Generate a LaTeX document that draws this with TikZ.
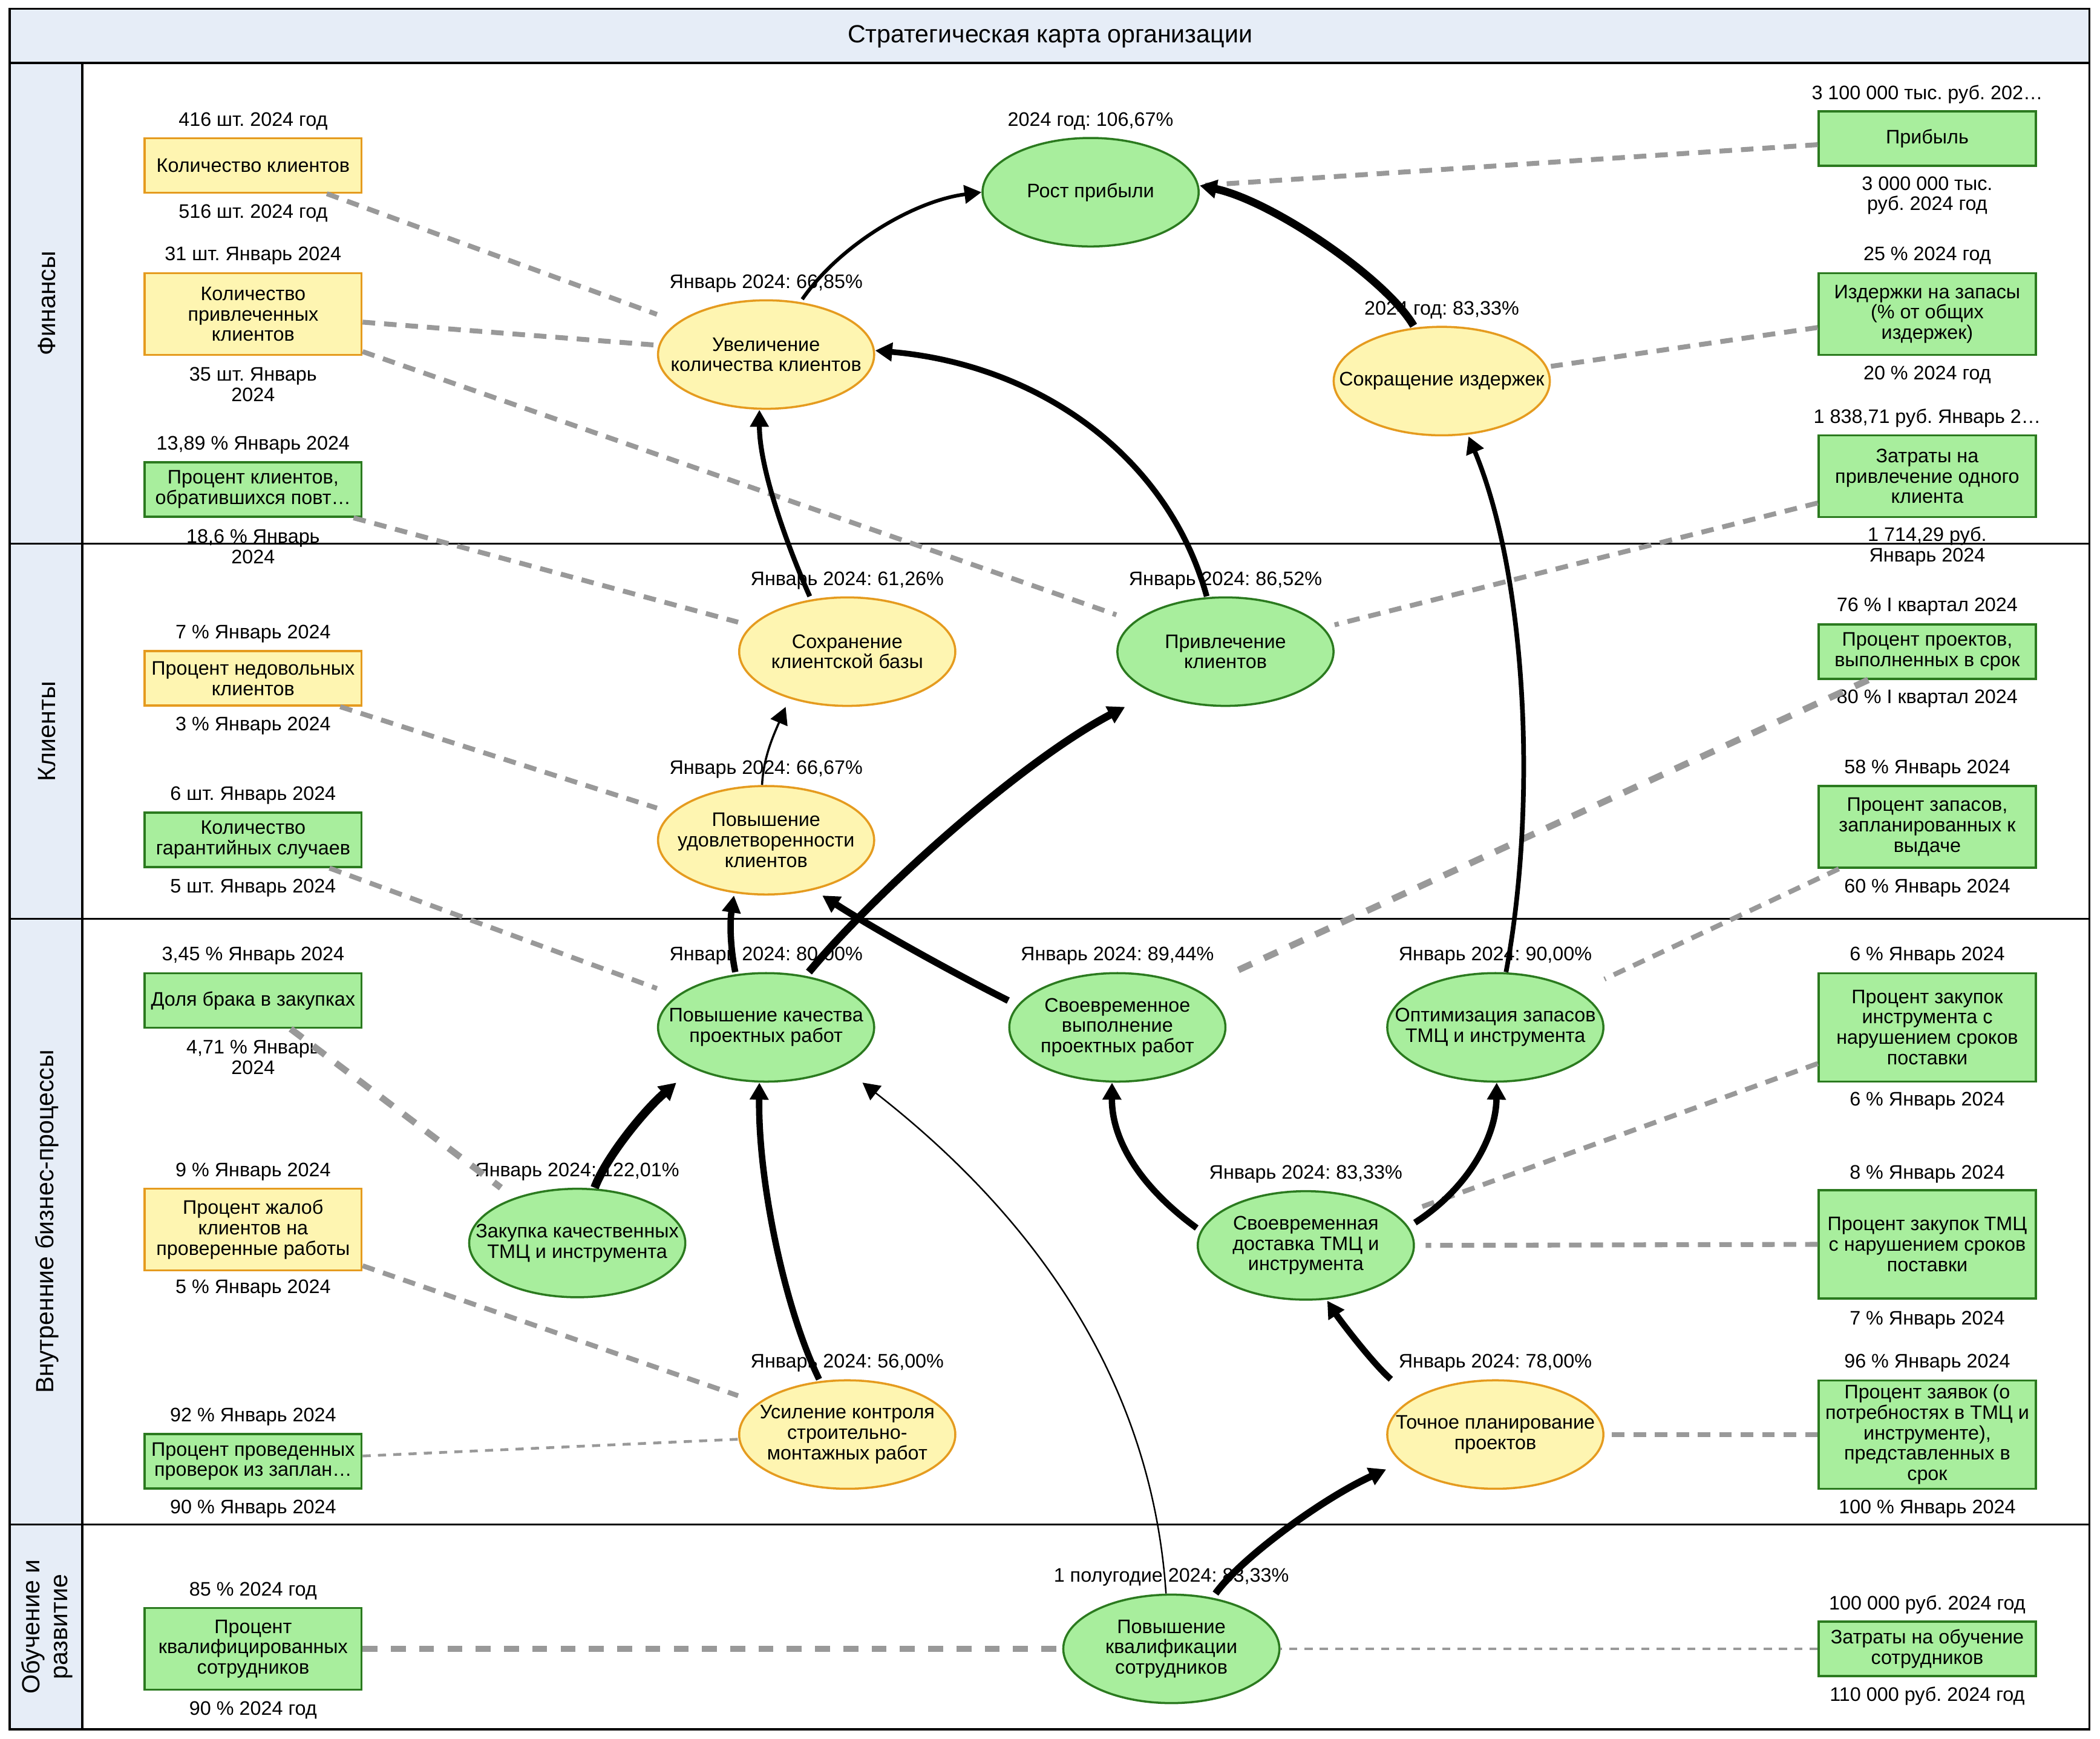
\documentclass[tikz,border=0pt]{standalone}
\usepackage{fontspec}
\setmainfont{Liberation Sans}
\usetikzlibrary{shapes.geometric,arrows.meta,calc}
\definecolor{band}{HTML}{E6EDF7}
\definecolor{yfill}{HTML}{FEF5B1}
\definecolor{yline}{HTML}{E59B1F}
\definecolor{gfill}{HTML}{A8EE9D}
\definecolor{gline}{HTML}{2B7A1F}
\definecolor{dgrey}{HTML}{999999}
\frenchspacing
\begin{document}
\frenchspacing
\begin{tikzpicture}[x=0.022137cm,y=-0.022137cm,
  every node/.style={font=\fontsize{9.2}{9.6}\selectfont\frenchspacing},
  box/.style={rectangle, line width=1pt, minimum width=3.586cm, inner xsep=-4pt, inner ysep=1pt, align=center},
  ybox/.style={box, fill=yfill, draw=yline},
  gbox/.style={box, fill=gfill, draw=gline},
  hone/.style={minimum height=0.9cm},
  htwo/.style={minimum height=1.35cm},
  hthree/.style={minimum height=1.79cm},
  ell/.style={ellipse, line width=1pt, minimum width=3.573cm, minimum height=1.793cm, inner xsep=-20pt, inner ysep=0pt, align=center},
  yell/.style={ell, fill=yfill, draw=yline},
  gell/.style={ell, fill=gfill, draw=gline},
  lbl/.style={inner sep=0pt, align=center},
  lane/.style={rotate=90, align=center, font=\fontsize{11.7}{13}\selectfont},
  arr/.style={-{Triangle[length=8pt,width=8.5pt]}, line width=#1, black},
  dm/.style={draw=dgrey, line width=2.3pt, dash pattern=on 5.9pt off 4.2pt},
  dk/.style={draw=dgrey, line width=3.1pt, dash pattern=on 7pt off 6.3pt},
  dt/.style={draw=dgrey, line width=1.3pt, dash pattern=on 3.8pt off 3.4pt}]
\useasboundingbox (0,0) rectangle (1568,1298.3);
% frame and lanes
\fill[band] (7.3,6.6) rectangle (1560,46.9);
\fill[band] (7.3,46.9) rectangle (61.5,1291);
\draw[line width=1pt] (7.3,46.9) -- (1560,46.9);
\draw[line width=1pt] (61.5,46.9) -- (61.5,1291);
\draw[line width=0.8pt] (7.3,406) -- (1560,406);
\draw[line width=0.8pt] (7.3,686) -- (1560,686);
\draw[line width=0.8pt] (7.3,1138) -- (1560,1138);
\draw[line width=1pt] (7.3,6.6) rectangle (1560,1291);
\node (title) at (784,27.3) {\fontsize{11.7}{13}\selectfont Стратегическая карта организации};
\node[lane] (lfin) at (35,226.5) {Финансы};
\node[lane] (lcli) at (35,546) {Клиенты};
\node[lane] (lproc) at (35,912) {Внутренние бизнес-процессы};
\node[lane] (ledu) at (35,1214.5) {Обучение и\\развитие};

% left metric boxes
\node[ybox, hone] (b1) at (189,123.5) {Количество клиентов};
\node[lbl] (b1t) at (189,90.6) {416 шт. 2024 год};
\node[lbl] (b1b) at (189,159) {516 шт. 2024 год};
\node[ybox, htwo] (b2) at (189,234.5) {Количество\\привлеченных\\клиентов};
\node[lbl] (b2t) at (189,190.8) {31 шт. Январь 2024};
\node[lbl] (b2b) at (189,287) {35 шт. Январь\\2024};
\node[gbox, hone] (b3) at (189,365.5) {Процент клиентов,\\обратившихся повт…};
\node[lbl] (b3t) at (189,332.4) {13,89 \% Январь 2024};
\node[lbl] (b3b) at (189,408) {18,6 \% Январь\\2024};
\node[ybox, hone] (b4) at (189,506.5) {Процент недовольных\\клиентов};
\node[lbl] (b4t) at (189,473.2) {7 \% Январь 2024};
\node[lbl] (b4b) at (189,541.9) {3 \% Январь 2024};
\node[gbox, hone] (b5) at (189,627) {Количество\\гарантийных случаев};
\node[lbl] (b5t) at (189,594) {6 шт. Январь 2024};
\node[lbl] (b5b) at (189,662.8) {5 шт. Январь 2024};
\node[gbox, hone] (b6) at (189,747) {Доля брака в закупках};
\node[lbl] (b6t) at (189,713.6) {3,45 \% Январь 2024};
\node[lbl] (b6b) at (189,789.5) {4,71 \% Январь\\2024};
\node[ybox, htwo] (b7) at (189,918) {Процент жалоб\\клиентов на\\проверенные работы};
\node[lbl] (b7t) at (189,874.8) {9 \% Январь 2024};
\node[lbl] (b7b) at (189,962) {5 \% Январь 2024};
\node[gbox, hone] (b8) at (189,1091) {Процент проведенных\\проверок из заплан…};
\node[lbl] (b8t) at (189,1057.8) {92 \% Январь 2024};
\node[lbl] (b8b) at (189,1126.6) {90 \% Январь 2024};
\node[gbox, htwo] (b9) at (189,1231) {Процент\\квалифицированных\\сотрудников};
\node[lbl] (b9t) at (189,1187.7) {85 \% 2024 год};
\node[lbl] (b9b) at (189,1276.7) {90 \% 2024 год};

% right metric boxes
\node[gbox, hone] (r1) at (1439,103.5) {Прибыль};
\node[lbl] (r1t) at (1439,70.5) {3 100 000 тыс. руб. 202…};
\node[lbl] (r1b) at (1439,146) {3 000 000 тыс.\\руб. 2024 год};
\node[gbox, htwo] (r2) at (1439,234.5) {Издержки на запасы\\(\% от общих\\издержек)};
\node[lbl] (r2t) at (1439,190.8) {25 \% 2024 год};
\node[lbl] (r2b) at (1439,280) {20 \% 2024 год};
\node[gbox, htwo] (r3) at (1439,355.5) {Затраты на\\привлечение одного\\клиента};
\node[lbl] (r3t) at (1439,312) {1 838,71 руб. Январь 2…};
\node[lbl] (r3b) at (1439,407.8) {1 714,29 руб.\\Январь 2024};
\node[gbox, hone] (r4) at (1439,486.5) {Процент проектов,\\выполненных в срок};
\node[lbl] (r4t) at (1439,453) {76 \% I квартал 2024};
\node[lbl] (r4b) at (1439,521.5) {80 \% I квартал 2024};
\node[gbox, htwo] (r5) at (1439,617.4) {Процент запасов,\\запланированных к\\выдаче};
\node[lbl] (r5t) at (1439,574) {58 \% Январь 2024};
\node[lbl] (r5b) at (1439,662.8) {60 \% Январь 2024};
\node[gbox, hthree] (r6) at (1439,767) {Процент закупок\\инструмента с\\нарушением сроков\\поставки};
\node[lbl] (r6t) at (1439,713.6) {6 \% Январь 2024};
\node[lbl] (r6b) at (1439,822) {6 \% Январь 2024};
\node[gbox, hthree] (r7) at (1439,929) {Процент закупок ТМЦ\\с нарушением сроков\\поставки};
\node[lbl] (r7t) at (1439,876.5) {8 \% Январь 2024};
\node[lbl] (r7b) at (1439,985.4) {7 \% Январь 2024};
\node[gbox, hthree] (r8) at (1439,1071) {Процент заявок (о\\потребностях в ТМЦ и\\инструменте),\\представленных в\\срок};
\node[lbl] (r8t) at (1439,1017.5) {96 \% Январь 2024};
\node[lbl] (r8b) at (1439,1126.6) {100 \% Январь 2024};
\node[gbox, hone] (r9) at (1439,1231) {Затраты на обучение\\сотрудников};
\node[lbl] (r9t) at (1439,1198) {100 000 руб. 2024 год};
\node[lbl] (r9b) at (1439,1266.3) {110 000 руб. 2024 год};

% objectives
\node[gell] (rost) at (814.3,143.5) {Рост прибыли};
\node[lbl] (rostl) at (814.3,90.6) {2024 год: 106,67\%};
\node[yell] (uvel) at (572,264.7) {Увеличение\\количества клиентов};
\node[lbl] (uvell) at (572,211.6) {Январь 2024: 66,85\%};
\node[yell] (sokr) at (1076.5,284.5) {Сокращение издержек};
\node[lbl] (sokrl) at (1076.5,231.6) {2024 год: 83,33\%};
\node[yell] (sohr) at (632.6,486.5) {Сохранение\\клиентской базы};
\node[lbl] (sohrl) at (632.6,433.4) {Январь 2024: 61,26\%};
\node[gell] (privl) at (915,486.5) {Привлечение\\клиентов};
\node[lbl] (privll) at (915,433.4) {Январь 2024: 86,52\%};
\node[yell] (udovl) at (572,627.3) {Повышение\\удовлетворенности\\клиентов};
\node[lbl] (udovll) at (572,574.4) {Январь 2024: 66,67\%};
\node[gell] (kach) at (572,767) {Повышение качества\\проектных работ};
\node[lbl] (kachl) at (572,713.7) {Январь 2024: 80,00\%};
\node[gell] (svoevr) at (834.3,767) {Своевременное\\выполнение\\проектных работ};
\node[lbl] (svoevrl) at (834.3,713.7) {Январь 2024: 89,44\%};
\node[gell] (optim) at (1116.5,767) {Оптимизация запасов\\ТМЦ и инструмента};
\node[lbl] (optiml) at (1116.5,713.7) {Январь 2024: 90,00\%};
\node[gell] (zakup) at (431,928) {Закупка качественных\\ТМЦ и инструмента};
\node[lbl] (zakupl) at (431,874.8) {Январь 2024: 122,01\%};
\node[gell] (dost) at (975,929.8) {Своевременная\\доставка ТМЦ и\\инструмента};
\node[lbl] (dostl) at (975,876.8) {Январь 2024: 83,33\%};
\node[yell] (usil) at (632.6,1071) {Усиление контроля\\строительно-\\монтажных работ};
\node[lbl] (usill) at (632.6,1017.5) {Январь 2024: 56,00\%};
\node[yell] (tochn) at (1116.5,1071) {Точное планирование\\проектов};
\node[lbl] (tochnl) at (1116.5,1017.5) {Январь 2024: 78,00\%};
\node[gell] (kval) at (874.6,1231) {Повышение\\квалификации\\сотрудников};
\node[lbl] (kvall) at (874.6,1177.7) {1 полугодие 2024: 83,33\%};

% metric links (dashed)
\draw[dm] ($(b1.south)+(55,0)$) -- ($(uvel.west)+(0,-30)$);
\draw[dm] ($(b2.east)+(0,6)$) -- ($(uvel.west)+(0,-7)$);
\draw[dm] ($(b2.east)+(0,28)$) -- ($(privl.west)+(0,-27.5)$);
\draw[dm] ($(b3.south)+(75,0)$) -- ($(sohr.west)+(0,-22)$);
\draw[dm] ($(b4.south)+(65,0)$) -- ($(udovl.west)+(0,-24)$);
\draw[dm] ($(b5.south)+(57,0)$) -- ($(kach.west)+(0,-29)$);
\draw[dk] ($(b6.south)+(28,0)$) -- ($(zakup.north)+(-57,0)$);
\draw[dm] ($(b7.east)+(0,27)$) -- ($(usil.west)+(0,-29)$);
\draw[dt] ($(b8.east)+(0,-4)$) -- ($(usil.west)+(0,3.5)$);
\draw[dk] (b9.east) -- (kval.west);
\draw[dm] ($(r1.west)+(0,4.5)$) -- ($(rost.east)+(0,-5)$);
\draw[dm] ($(r2.west)+(0,10)$) -- ($(sokr.east)+(0,-11)$);
\draw[dm] ($(r3.west)+(0,20)$) -- ($(privl.east)+(0,-20)$);
\draw[dk] ($(r4.south)+(-44,0)$) -- ($(svoevr.north)+(87,0)$);
\draw[dm] ($(r5.south)+(-66,0)$) -- ($(optim.east)+(0,-36)$);
\draw[dm] ($(r6.west)+(0,27)$) -- ($(dost.east)+(0,-27)$);
\draw[dm] (r7.west) -- ($(dost.east)+(8,0)$);
\draw[dm] (r8.west) -- (tochn.east);
\draw[dt] (r9.west) -- (kval.east);

% causal links
\draw[arr=1.7pt] ($(uvel.north)+(27,0)$) .. controls (627,183) and (682,150) .. (rost.west);
\draw[arr=3.7pt] ($(sokr.north)+(-21,0)$) .. controls (1035,208) and (950,150) .. ($(rost.east)+(0,-5)$);
\draw[arr=2.3pt] ($(sohr.north)+(-28,0)$) .. controls (588,408) and (567,350) .. ($(uvel.south)+(-5,0)$);
\draw[arr=2.7pt] ($(privl.north)+(-14,0)$) .. controls (872,340) and (775,272) .. ($(uvel.east)+(0,-3)$);
\draw[arr=1pt] ($(udovl.north)+(-3,0)$) .. controls (570,565) and (578,548) .. ($(sohr.south)+(-46,0)$);
\draw[arr=3pt] ($(kach.north)+(-23,0)$) .. controls (545,706) and (545,688) .. ($(udovl.south)+(-24,0)$);
\draw[arr=3.6pt] ($(kach.north)+(32,0)$) .. controls (650,670) and (760,570) .. ($(privl.south)+(-75,0)$);
\draw[arr=3.2pt] ($(svoevr.west)+(0,-20)$) .. controls (715,728) and (655,695) .. ($(udovl.south)+(42,0)$);
\draw[arr=4pt] ($(zakup.north)+(13,0)$) .. controls (452,865) and (480,830) .. ($(kach.south)+(-67,0)$);
\draw[arr=3pt] ($(usil.north)+(-21,0)$) .. controls (585,975) and (566,880) .. ($(kach.south)+(-5,0)$);
\draw[arr=0.7pt] ($(kval.north)+(-4,0)$) .. controls (862,1060) and (800,930) .. ($(kach.south)+(72,0)$);
\draw[arr=3pt] ($(dost.west)+(0,-13)$) .. controls (850,885) and (830,850) .. ($(svoevr.south)+(-4,0)$);
\draw[arr=3pt] ($(dost.east)+(0,-17)$) .. controls (1095,888) and (1117,850) .. ($(optim.south)+(1,0)$);
\draw[arr=3pt] ($(tochn.north)+(-78,0)$) .. controls (1025,1018) and (1000,985) .. ($(dost.south)+(16,0)$);
\draw[arr=3.3pt] ($(kval.north)+(33,0)$) .. controls (925,1165) and (985,1120) .. ($(tochn.west)+(0,26)$);
\draw[arr=2.2pt] ($(optim.north)+(8,0)$) .. controls (1148,600) and (1140,430) .. ($(sokr.south)+(20,0)$);
\end{tikzpicture}
\end{document}
